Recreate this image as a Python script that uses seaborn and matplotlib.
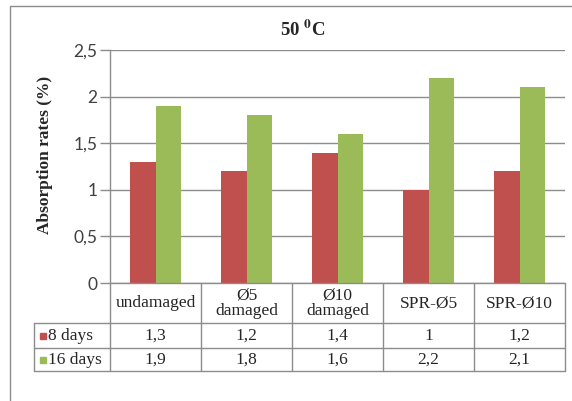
import numpy as np
import pandas as pd
import matplotlib
matplotlib.use("Agg")
from matplotlib import pyplot as plt
from matplotlib.patches import Rectangle
import matplotlib.transforms as mtransforms
import seaborn as sns

# data
categories = ["undamaged", "Ø5\ndamaged", "Ø10\ndamaged", "SPR-Ø5", "SPR-Ø10"]
days_8 = [1.3, 1.2, 1.4, 1.0, 1.2]
days_16 = [1.9, 1.8, 1.6, 2.2, 2.1]
series_names = ["8 days", "16 days"]
series_colors = ["#C0504D", "#9BBB59"]
y_ticks = [0, 0.5, 1, 1.5, 2, 2.5]

sns.set_style("white")
plt.rcParams['font.family'] = ['Liberation Serif', 'DejaVu Serif']
plt.rcParams['mathtext.fontset'] = 'stix'

df = pd.DataFrame({
    "category": categories * 2,
    "value": days_8 + days_16,
    "series": [series_names[0]] * len(categories) + [series_names[1]] * len(categories),
})

W, H = 572, 401
fig = plt.figure(figsize=(W / 100, H / 100), dpi=100)

# outer chart border
fig.patches.append(Rectangle((10 / W, -0.1), 1.2, 1 - 6 / H + 0.1, transform=fig.transFigure,
                             fill=False, edgecolor="#8c8c8c", linewidth=1.0))

ax = fig.add_axes([110 / W, 1 - 283 / H, 455 / W, 233 / H])
sns.barplot(data=df, x="category", y="value", hue="series", palette=series_colors,
            width=0.56, gap=0, saturation=1, legend=False, linewidth=0, ax=ax)

grid_col = "#8c8c8c"
ax.set_xlim(-0.5, len(categories) - 0.5)
ax.set_ylim(0, 2.5)
ax.set_yticks(y_ticks)
ax.set_yticklabels([("%g" % t).replace(".", ",") for t in y_ticks],
                   fontfamily="Lato", fontsize=12.5, color="#404040")
ax.tick_params(axis="y", length=7, width=1, color=grid_col, pad=2, left=True)
ax.set_xticks([])
ax.set_xlabel("")
ax.yaxis.grid(True, color=grid_col, linewidth=1)
ax.set_axisbelow(True)
for s in ["top", "right", "bottom"]:
    ax.spines[s].set_visible(False)
ax.spines["left"].set_color(grid_col)
ax.spines["left"].set_linewidth(1)

ax.set_ylabel("Absorption rates (%)", fontsize=12.5, fontweight="bold")
ax.yaxis.set_label_coords(-(110 - 53) / 455, 0.55)

fig.text(303 / W, 1 - 30 / H, r"50 $^\mathbf{0}$C", ha="center", va="center",
         fontsize=13.5, fontweight="bold")

# data table under the plot
tr = mtransforms.blended_transform_factory(ax.transData, ax.transAxes)
px = lambda y: (283 - y) / 233
rows = [px(283), px(323), px(348), px(371)]
x_left = (34 - 110) / 91 - 0.5
n = len(categories)
line_kw = dict(color=grid_col, linewidth=1, transform=tr, clip_on=False)

ax.plot([-0.5, n - 0.5], [rows[0], rows[0]], **line_kw)
for r in rows[1:]:
    ax.plot([x_left, n - 0.5], [r, r], **line_kw)
for i in range(n + 1):
    ax.plot([i - 0.5, i - 0.5], [rows[0], rows[3]], **line_kw)
ax.plot([x_left, x_left], [rows[1], rows[3]], **line_kw)

for i, c in enumerate(categories):
    ax.text(i, (rows[0] + rows[1]) / 2, c, transform=tr, ha="center", va="center",
            fontsize=12.5, linespacing=1.0)

for k, vals in enumerate([days_8, days_16]):
    yc = (rows[k + 1] + rows[k + 2]) / 2
    for i, v in enumerate(vals):
        ax.text(i, yc, ("%g" % v).replace(".", ","), transform=tr, ha="center",
                va="center", fontsize=12.5)
    ax.plot([(43 - 110) / 91 - 0.5], [yc], marker="s", markersize=5,
            color=series_colors[k], transform=tr, clip_on=False)
    ax.text((48.5 - 110) / 91 - 0.5, yc, series_names[k], transform=tr, ha="left",
            va="center", fontsize=12.5)

fig.savefig("out.png", dpi=100)
